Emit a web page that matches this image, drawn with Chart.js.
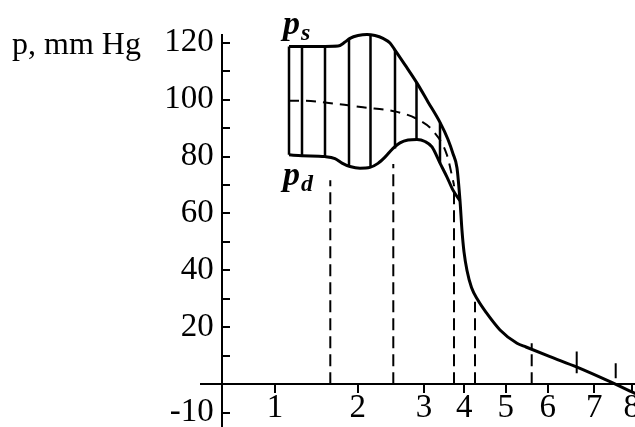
<!DOCTYPE html>
<html>
<head>
<meta charset="utf-8">
<script src="https://cdn.jsdelivr.net/npm/chart.js@4.4.1/dist/chart.umd.min.js"></script>
<style>
  html, body { margin: 0; padding: 0; background: #fff; overflow: hidden; width: 635px; height: 427px; }
  #wrap { width: 670px; height: 460px; }
</style>
</head>
<body>
<div id="wrap"><canvas id="chart" width="670" height="460"></canvas></div>
<script>
// pressure along the vessel bed

const FONT = '"Liberation Serif", "Times New Roman", serif';
const Y_TITLE = 'p, mm Hg';

// x axis: section numbers sit at uneven places along the bed
const xTickPos = [5.3, 13.57, 20.2, 24.23, 28.37, 32.57, 37.23, 40.97];
const xTickLabels = ['1', '2', '3', '4', '5', '6', '7', '8'];

// y axis
const yTickVals = [-10, 10, 20, 30, 40, 50, 60, 70, 80, 90, 100, 110, 120];
const yLabelVals = [-10, 20, 40, 60, 80, 100, 120];

// systolic pressure p_s (upper line, runs on to the end)
const psX = [6.7, 8.0, 10.3, 11.6, 12.3, 12.8, 13.6, 14.5, 15.3, 16.1, 16.8, 17.3, 18.3, 19.5, 20.6, 21.8, 22.6, 23.1, 23.5, 23.8, 24.0, 24.2, 24.5, 24.95, 25.6, 26.4, 27.8, 29.5, 30.4, 32.8, 35.5, 38.8, 41.3, 42.5];
const psY = [118.7, 118.7, 118.7, 118.8, 120.2, 121.5, 122.5, 122.9, 122.5, 121.5, 119.9, 117.4, 112.2, 105.8, 99.2, 92.0, 86.0, 81.0, 76.0, 64.5, 54.0, 46.5, 40.0, 34.0, 29.5, 25.3, 19.1, 14.4, 13.1, 9.7, 6.0, 0.9, -3.2, -5.0];

// diastolic pressure p_d (lower line, joins p_s)
const pdX = [6.7, 8.0, 10.3, 11.3, 12.0, 12.8, 13.8, 14.8, 15.6, 16.3, 17.1, 17.8, 18.6, 19.5, 20.3, 21.0, 21.8, 22.5, 23.1, 23.8];
const pdY = [80.6, 80.3, 80.0, 79.3, 77.7, 76.5, 75.9, 76.2, 77.6, 79.8, 82.9, 84.8, 85.8, 86.0, 85.3, 83.4, 77.7, 72.8, 68.2, 64.5];

// mean pressure (dashed)
const meanX = [6.7, 8.0, 11.5, 14.1, 17.5, 19.5, 21.1, 22.5, 23.2];
const meanY = [99.6, 99.6, 98.5, 97.3, 95.7, 93.2, 89.0, 80.5, 70.0];

// hatching between p_d and p_s
const hatchX = [6.7, 8.0, 10.3, 12.7, 14.85, 17.3, 19.45, 21.8];
const hatchLow = [80.6, 80.3, 80.0, 76.6, 76.1, 82.8, 86.0, 77.7];
const hatchHigh = [118.7, 118.7, 118.7, 121.3, 122.8, 117.4, 105.9, 92.0];

// dashed section borders down to the axis
const dropX = [10.83, 17.13, 23.2, 25.3, 30.97];
const dropTop = [71.7, 77.4, 70.0, 29.0, 14.4];
const dropBottom = [0, 0, 0, 0, 0];

// short solid marks on the tail
const markX = [35.47, 39.37];
const markTop = [11.5, 7.4];
const markBottom = [3.9, 2.1];

// --- helpers ---
function toPoints(xs, ys) {
  return xs.map((x, i) => ({ x: x, y: ys[i] }));
}

function toSegments(xs, lows, highs) {
  const pts = [];
  xs.forEach((x, i) => {
    pts.push({ x: x, y: lows[i] }, { x: x, y: highs[i] }, { x: x, y: null });
  });
  return pts;
}

function drawSubLabel(ctx, main, sub, x, y) {
  ctx.font = 'italic bold 34px ' + FONT;
  ctx.fillText(main, x, y);
  const w = ctx.measureText(main).width;
  ctx.font = 'italic bold 24px ' + FONT;
  ctx.fillText(sub, x + w + 1, y + 6);
}

// --- text that is not a tick label ---
const labelPlugin = {
  id: 'figureLabels',
  afterDraw(chart) {
    const { ctx } = chart;
    const xs = chart.scales.x;
    const ys = chart.scales.y;
    ctx.save();
    ctx.fillStyle = '#000';
    ctx.textAlign = 'left';
    ctx.textBaseline = 'alphabetic';
    ctx.font = '32px ' + FONT;
    ctx.fillText(Y_TITLE, 12, ys.getPixelForValue(120) + 11);
    drawSubLabel(ctx, 'p', 's', xs.getPixelForValue(6.1), ys.getPixelForValue(123));
    drawSubLabel(ctx, 'p', 'd', xs.getPixelForValue(6.1), ys.getPixelForValue(70));
    ctx.restore();
  }
};

// --- chart ---
const lineBase = { showLine: true, pointRadius: 0, borderColor: '#000', clip: false, fill: false };

new Chart(document.getElementById('chart'), {
  type: 'scatter',
  data: {
    datasets: [
      Object.assign({}, lineBase, { label: 'p_s', data: toPoints(psX, psY), borderWidth: 3, cubicInterpolationMode: 'monotone' }),
      Object.assign({}, lineBase, { label: 'p_d', data: toPoints(pdX, pdY), borderWidth: 3, cubicInterpolationMode: 'monotone' }),
      Object.assign({}, lineBase, { label: 'mean', data: toPoints(meanX, meanY), borderWidth: 2, borderDash: [10, 7], cubicInterpolationMode: 'monotone' }),
      Object.assign({}, lineBase, { label: 'hatch', data: toSegments(hatchX, hatchLow, hatchHigh), borderWidth: 2.5 }),
      Object.assign({}, lineBase, { label: 'drops', data: toSegments(dropX, dropBottom, dropTop), borderWidth: 2, borderDash: [12, 6] }),
      Object.assign({}, lineBase, { label: 'marks', data: toSegments(markX, markBottom, markTop), borderWidth: 2 })
    ]
  },
  options: {
    responsive: false,
    animation: false,
    layout: { padding: { left: 201, right: 10, top: 35, bottom: 33 } },
    plugins: { legend: { display: false }, tooltip: { enabled: false } },
    scales: {
      x: {
        type: 'linear',
        position: { y: 0 },
        min: -2.1,
        max: 43.8,
        afterBuildTicks: (s) => { s.ticks = xTickPos.map(v => ({ value: v })); },
        border: { display: true, color: '#000', width: 2 },
        grid: { drawOnChartArea: false, drawTicks: true, tickLength: 8, color: '#000', lineWidth: 2 },
        ticks: {
          autoSkip: false, maxRotation: 0, minRotation: 0, padding: 0, color: '#000',
          font: { family: FONT, size: 33, lineHeight: 1 },
          callback: (v) => xTickLabels[xTickPos.indexOf(v)]
        }
      },
      y: {
        type: 'linear',
        position: { x: 0 },
        min: -15,
        max: 122.7,
        afterBuildTicks: (s) => { s.ticks = yTickVals.map(v => ({ value: v })); },
        border: { display: true, color: '#000', width: 2 },
        grid: { drawOnChartArea: false, drawTicks: true, tickLength: -9, color: '#000', lineWidth: 2 },
        ticks: {
          autoSkip: false, color: '#000',
          font: { family: FONT, size: 33, lineHeight: 1 },
          // object-positioned axis ignores ticks.padding, a trailing space keeps the gap
          callback: (v) => (yLabelVals.includes(v) ? String(v) + ' ' : '')
        }
      }
    }
  },
  plugins: [labelPlugin]
});
</script>
</body>
</html>
